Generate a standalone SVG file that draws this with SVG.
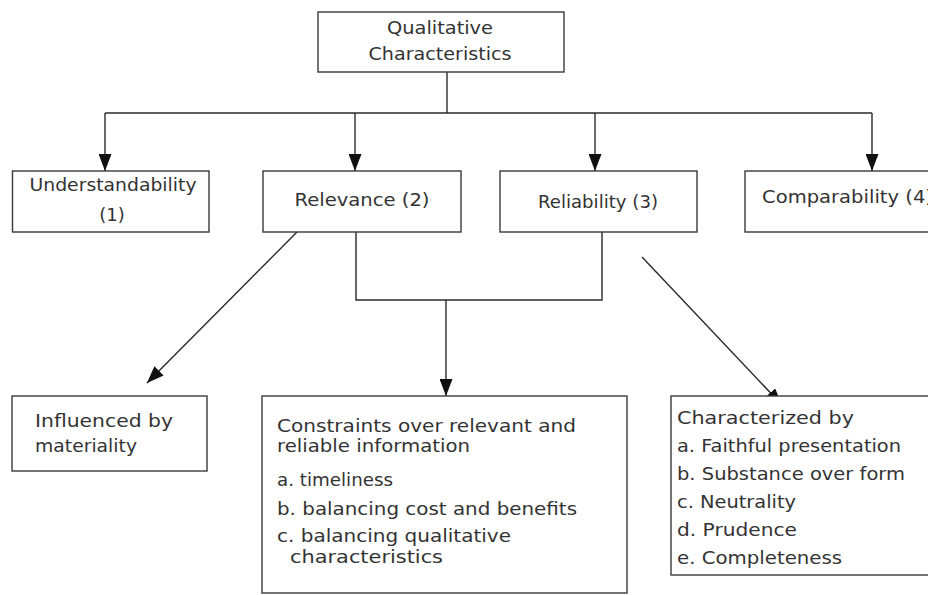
<svg xmlns="http://www.w3.org/2000/svg" width="928" height="595" viewBox="0 0 928 595">
<style>
.box{fill:#fff;stroke:#3a3a3a;stroke-width:1.4}
.t{font-family:"DejaVu Sans","Liberation Sans",sans-serif;font-size:18px;fill:#333}
.c{text-anchor:middle}
.ln{fill:none;stroke:#2a2a2a;stroke-width:1.4}
</style>
<defs>
<marker id="ah" viewBox="0 0 17 13" refX="17" refY="6.5" markerWidth="17" markerHeight="13" markerUnits="userSpaceOnUse" orient="auto">
<path d="M0,0 L17,6.5 L0,13 Z" fill="#111"/>
</marker>
</defs>
<g id="connectors">
<path class="ln" d="M447,72 V113"/>
<path class="ln" d="M105,113 H872"/>
<path class="ln" d="M105,113 V171" marker-end="url(#ah)"/>
<path class="ln" d="M355,113 V171" marker-end="url(#ah)"/>
<path class="ln" d="M595,113 V171" marker-end="url(#ah)"/>
<path class="ln" d="M872,113 V171" marker-end="url(#ah)"/>
<path class="ln" d="M297,232 L147,383" marker-end="url(#ah)"/>
<path class="ln" d="M356,232 V300 H602 V232"/>
<path class="ln" d="M446,300 V396" marker-end="url(#ah)"/>
<path class="ln" d="M642,257 L782,405" marker-end="url(#ah)"/>
</g>
<g id="qualitative">
<rect class="box" x="318" y="12" width="246" height="60"/>
<text class="t c" x="440" y="34" textLength="106" lengthAdjust="spacingAndGlyphs">Qualitative</text>
<text class="t c" x="440" y="60" textLength="143" lengthAdjust="spacingAndGlyphs">Characteristics</text>
</g>
<g id="understandability">
<rect class="box" x="12.5" y="171" width="196.5" height="61"/>
<text class="t c" x="113" y="191" textLength="167" lengthAdjust="spacingAndGlyphs">Understandability</text>
<text class="t c" x="112" y="221">(1)</text>
</g>
<g id="relevance">
<rect class="box" x="263" y="171" width="198" height="61"/>
<text class="t c" x="362" y="206" textLength="135" lengthAdjust="spacingAndGlyphs">Relevance (2)</text>
</g>
<g id="reliability">
<rect class="box" x="500" y="171" width="197" height="61"/>
<text class="t c" x="598" y="208" textLength="120" lengthAdjust="spacingAndGlyphs">Reliability (3)</text>
</g>
<g id="comparability">
<rect class="box" x="745" y="171" width="200" height="61"/>
<text class="t" x="762" y="203" textLength="171" lengthAdjust="spacingAndGlyphs">Comparability (4)</text>
</g>
<g id="materiality">
<rect class="box" x="12" y="396" width="195" height="75"/>
<text class="t" x="35" y="427" textLength="138" lengthAdjust="spacingAndGlyphs">Influenced  by</text>
<text class="t" x="35" y="452" textLength="102" lengthAdjust="spacingAndGlyphs">materiality</text>
</g>
<g id="constraints">
<rect class="box" x="262" y="396" width="365" height="197"/>
<text class="t" x="277" y="432" textLength="299" lengthAdjust="spacingAndGlyphs">Constraints over  relevant  and</text>
<text class="t" x="277" y="452" textLength="193" lengthAdjust="spacingAndGlyphs">reliable  information</text>
<text class="t" x="277" y="486" textLength="116" lengthAdjust="spacingAndGlyphs">a. timeliness</text>
<text class="t" x="277" y="515" textLength="300" lengthAdjust="spacingAndGlyphs">b. balancing cost and benefits</text>
<text class="t" x="277" y="542" textLength="234" lengthAdjust="spacingAndGlyphs">c. balancing qualitative</text>
<text class="t" x="290" y="563" textLength="153" lengthAdjust="spacingAndGlyphs">characteristics</text>
</g>
<g id="characterized">
<rect class="box" x="671" y="396" width="270" height="179"/>
<text class="t" x="677" y="424" textLength="177" lengthAdjust="spacingAndGlyphs">Characterized  by</text>
<text class="t" x="677" y="452" textLength="224" lengthAdjust="spacingAndGlyphs">a. Faithful presentation</text>
<text class="t" x="677" y="480" textLength="228" lengthAdjust="spacingAndGlyphs">b. Substance over form</text>
<text class="t" x="677" y="508" textLength="119" lengthAdjust="spacingAndGlyphs">c. Neutrality</text>
<text class="t" x="677" y="536" textLength="120" lengthAdjust="spacingAndGlyphs">d. Prudence</text>
<text class="t" x="677" y="564" textLength="165" lengthAdjust="spacingAndGlyphs">e. Completeness</text>
</g>
</svg>
